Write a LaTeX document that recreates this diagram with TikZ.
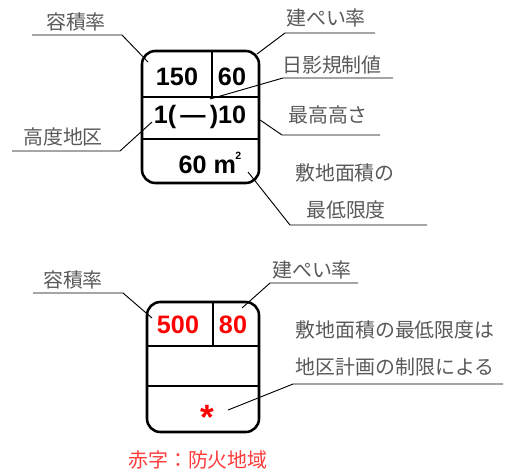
\documentclass[tikz,border=0pt]{standalone}
\usepackage{fontspec}
\setmainfont{Liberation Sans}
\newfontfamily\jp{Noto Sans CJK JP}
\usetikzlibrary{positioning, calc}

\definecolor{labelgray}{HTML}{595959}
\definecolor{noteRed}{HTML}{FF3B3B}

\begin{document}
\begin{tikzpicture}[x=0.03cm, y=-0.03cm,
        lbl/.style={text=labelgray, font=\jp\fontsize{17}{17}\selectfont, inner sep=0pt},
        num/.style={font=\bfseries\fontsize{21.5}{21.5}\selectfont, inner sep=0pt},
        lead/.style={line width=0.8pt},
        cell/.style={line width=1.3pt},
        frame/.style={line width=2.2pt, rounded corners=0.4cm}]
        \useasboundingbox (0,0) rectangle (517,475);

        % upper table
        \draw[frame] (142,51) rectangle (259,183);
        \draw[cell] (142,97) -- (259,97);
        \draw[cell] (212,51) -- (212,97);
        \draw[line width=2.2pt] (142,139) -- (259,139);

        \node[num] (far) at (177,77) {150};
        \node[num] (bcr) at (232,77) {60};
        \node[num] (hgt) at (200,117) {1(\,—\,)10};
        \node[num] (area) at (210,163) {60 m\kern-0.5pt\raisebox{1.1ex}{\fontsize{9}{9}\selectfont 2}};

        \node[lbl] (lfar) at (76,22) {容積率};
        \node[lbl] (lbcr) at (326,18) {建ぺい率};
        \node[lbl] (lsun) at (332,65) {日影規制値};
        \node[lbl] (lmax) at (328,115) {最高高さ};
        \node[lbl] (larea) at (345,173) {敷地面積の};
        \node[lbl] (larea2) at (346,210) {最低限度};
        \node[lbl] (lhgt) at (63,137) {高度地区};

        \coordinate (farL) at (32,35);   \coordinate (farK) at (122,35);  \coordinate (farT) at (148,62);
        \coordinate (bcrR) at (375,33);  \coordinate (bcrK) at (285,33);  \coordinate (bcrT) at (257,54);
        \coordinate (sunR) at (393,78);  \coordinate (sunK) at (283,78);  \coordinate (sunT) at (210,99);
        \coordinate (maxR) at (380,135); \coordinate (maxK) at (282,135); \coordinate (maxT) at (260,120);
        \coordinate (areaR) at (427,225); \coordinate (areaK) at (290,225); \coordinate (areaT) at (248,172);
        \coordinate (hgtL) at (12,151);  \coordinate (hgtK) at (120,151); \coordinate (hgtT) at (152,122);

        \foreach \a/\b/\c in {farL/farK/farT, bcrR/bcrK/bcrT, sunR/sunK/sunT,
                maxR/maxK/maxT, areaR/areaK/areaT, hgtL/hgtK/hgtT} {
                \draw[lead] (\a) -- (\b) -- (\c);
        }

        % lower table
        \draw[frame] (147,302) rectangle (259,432);
        \draw[cell] (147,346) -- (259,346);
        \draw[cell] (213,302) -- (213,346);
        \draw[line width=2.2pt] (147,386) -- (259,386);

        \node[num, text=red] (far2) at (178,325) {500};
        \node[num, text=red] (bcr2) at (233,325) {80};
        \node[num, text=red] (star) at (207,417) {\fontsize{30}{30}\selectfont *};

        \node[lbl] (lfar2) at (73,280) {容積率};
        \node[lbl] (lbcr2) at (312,270) {建ぺい率};
        \node[lbl] (lnote) at (395,330) {敷地面積の最低限度は};
        \node[lbl] (lnote2) at (395,367) {地区計画の制限による};
        \node[lbl, text=noteRed] (legend) at (198,460) {赤字：防火地域};

        \coordinate (far2L) at (33,293);  \coordinate (far2K) at (123,293); \coordinate (far2T) at (152,318);
        \coordinate (bcr2R) at (358,283); \coordinate (bcr2K) at (270,283); \coordinate (bcr2T) at (242,308);
        \coordinate (noteR) at (503,384); \coordinate (noteK) at (293,384); \coordinate (noteT) at (228,410);

        \foreach \a/\b/\c in {far2L/far2K/far2T, bcr2R/bcr2K/bcr2T, noteR/noteK/noteT} {
                \draw[lead] (\a) -- (\b) -- (\c);
        }
\end{tikzpicture}
\end{document}
